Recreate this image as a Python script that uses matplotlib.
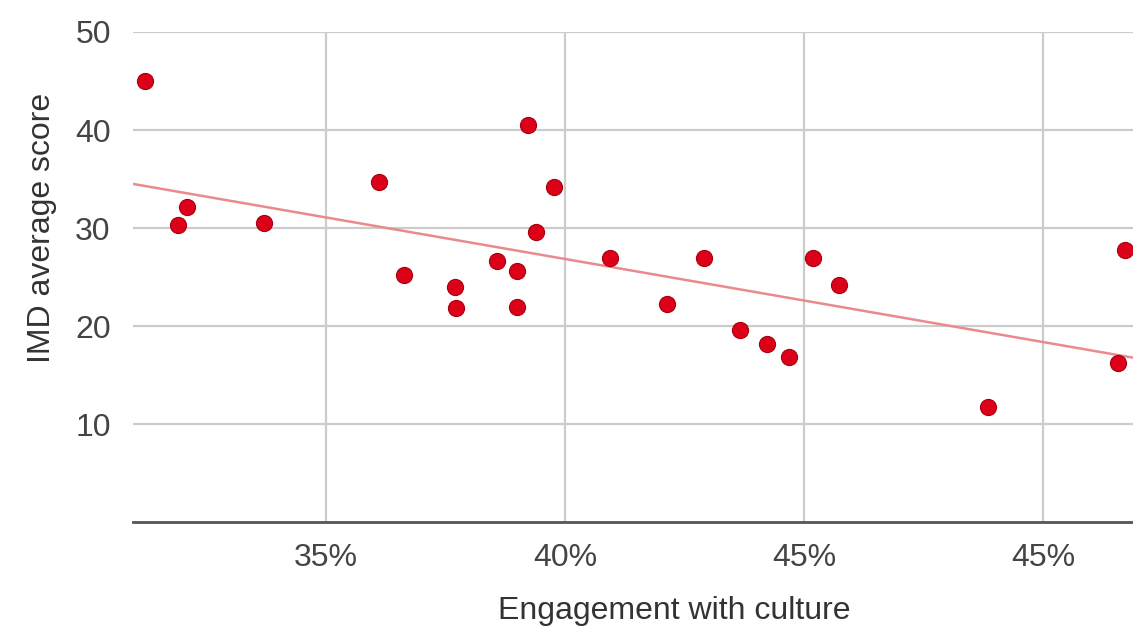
import numpy as np
import matplotlib
matplotlib.use("Agg")
import matplotlib.pyplot as plt

# Data (engagement with culture, %) vs IMD average score
engagement = [31.21, 31.90, 32.09, 33.70, 36.11, 36.63, 37.70, 37.72, 38.58, 39.00,
              39.00, 39.23, 39.39, 39.77, 40.94, 42.13, 42.91, 43.66, 44.23, 44.69,
              45.19, 45.73, 48.85, 51.57, 51.72]
imd_score = [45.0, 30.3, 32.1, 30.5, 34.7, 25.2, 24.0, 21.8, 26.6, 25.6,
             21.9, 40.5, 29.6, 34.2, 26.9, 22.2, 26.9, 19.6, 18.2, 16.8,
             26.9, 24.2, 11.7, 16.2, 27.8]
x_ticks = [35, 40, 45, 50]
x_tick_labels = ["35%", "40%", "45%", "45%"]
y_ticks = [10, 20, 30, 40, 50]
x_range = [30.96, 53.6]
y_range = [0, 50]

plt.rcParams['font.family'] = ['Liberation Sans', 'DejaVu Sans']

fig = plt.figure(figsize=(11.33, 6.34), dpi=100)
ax = fig.add_axes([133/1133, 112/634, 1082/1133, 490/634])

ax.set_xlim(*x_range)
ax.set_ylim(*y_range)

ax.set_xticks(x_ticks)
ax.set_xticklabels(x_tick_labels)
ax.set_yticks(y_ticks)

ax.grid(True, color='#cccccc', linewidth=1.6, zorder=0)
ax.set_axisbelow(True)
for s in ['top', 'right', 'left']:
    ax.spines[s].set_visible(False)
ax.spines['bottom'].set_color('#555555')
ax.spines['bottom'].set_linewidth(2.0)

ax.tick_params(axis='both', length=0, labelsize=23, labelcolor='#444444')
ax.tick_params(axis='y', pad=16)
ax.tick_params(axis='x', pad=15)

# Linear trendline (least squares)
coef = np.polyfit(engagement, imd_score, 1)
tx = np.array(x_range)
ax.plot(tx, np.polyval(coef, tx), color='#e98a8d', linewidth=1.8, zorder=2)

ax.scatter(engagement, imd_score, s=135, facecolor='#dc0018', edgecolor='#a8000f',
           linewidth=0.8, zorder=3, clip_on=False)

ax.set_xlabel("Engagement with culture", fontsize=23, color='#333333')
ax.set_ylabel("IMD average score", fontsize=23, color='#333333')
ax.xaxis.set_label_coords(0.5, -0.152)
ax.yaxis.set_label_coords(-0.07, 0.60)

fig.savefig("out.png", dpi=100, facecolor='white')
